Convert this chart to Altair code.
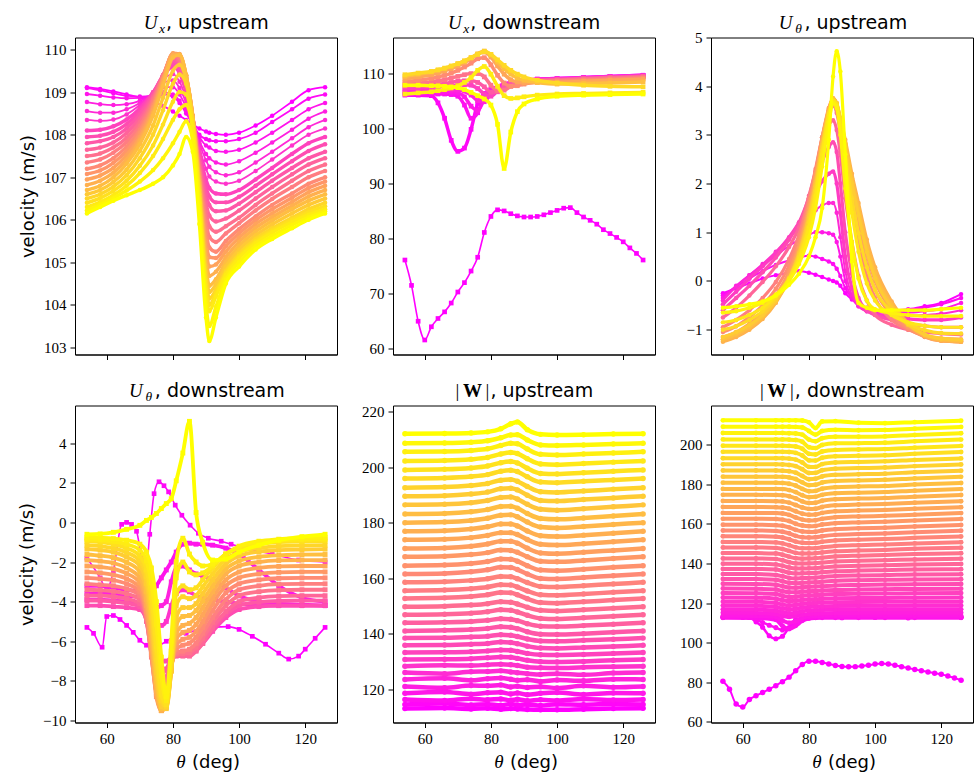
import altair as alt
import pandas as pd

W, H = 262, 317
XDOM = [50.4, 129.6]
XTICKS = [60, 80, 100, 120]

# ---------------- Panel 1: U_x upstream ----------------
UXU_X = [54, 58, 62, 66, 70, 74, 77, 80, 82, 84, 86, 88, 90, 91, 93, 96, 100, 105, 110, 116, 121, 126]
UXU_T = [0, 0.04, 0.08, 0.12, 0.16, 0.2, 0.26, 0.3, 0.34, 0.39, 0.44, 0.49, 0.54, 0.59, 0.64, 0.69, 0.74, 0.79, 0.84, 0.88, 0.92, 0.96, 1.0]
UXU = [
    [109.12, 109.08, 109.02, 108.95, 108.88, 108.78, 108.68, 108.55, 108.45, 108.35, 108.25, 108.15, 108.08, 108.05, 108.02, 108.0, 108.05, 108.22, 108.45, 108.78, 109.05, 109.12],
    [109.1, 109.05, 108.98, 108.92, 108.9, 108.92, 108.95, 108.9, 108.75, 108.5, 108.25, 108.0, 107.9, 107.87, 107.85, 107.85, 107.9, 108.05, 108.3, 108.6, 108.85, 108.95],
    [108.96, 108.92, 108.88, 108.86, 108.87, 108.92, 109.0, 108.95, 108.8, 108.55, 108.25, 107.95, 107.75, 107.7, 107.62, 107.6, 107.65, 107.82, 108.05, 108.35, 108.6, 108.75],
    [108.77, 108.72, 108.7, 108.72, 108.8, 108.95, 109.12, 109.12, 108.95, 108.65, 108.25, 107.85, 107.55, 107.45, 107.35, 107.3, 107.38, 107.58, 107.82, 108.12, 108.38, 108.55],
    [108.56, 108.52, 108.52, 108.6, 108.75, 108.98, 109.22, 109.28, 109.1, 108.75, 108.3, 107.8, 107.4, 107.25, 107.12, 107.05, 107.12, 107.35, 107.6, 107.92, 108.18, 108.35],
    [108.35, 108.33, 108.36, 108.48, 108.7, 109.0, 109.3, 109.43, 109.25, 108.85, 108.3, 107.7, 107.2, 107.02, 106.9, 106.85, 106.92, 107.15, 107.42, 107.75, 108.0, 108.15],
    [108.1, 108.12, 108.2, 108.36, 108.62, 109.0, 109.38, 109.6, 109.45, 109.0, 108.35, 107.6, 106.95, 106.75, 106.62, 106.6, 106.7, 106.95, 107.22, 107.55, 107.8, 107.95],
    [107.95, 107.98, 108.07, 108.25, 108.55, 108.98, 109.39, 109.68, 109.54, 109.08, 108.38, 107.52, 106.77, 106.55, 106.41, 106.41, 106.54, 106.8, 107.07, 107.38, 107.62, 107.78],
    [107.8, 107.85, 107.95, 108.15, 108.48, 108.95, 109.4, 109.75, 109.62, 109.15, 108.4, 107.45, 106.6, 106.35, 106.2, 106.22, 106.38, 106.65, 106.92, 107.22, 107.45, 107.6],
    [107.65, 107.7, 107.82, 108.04, 108.39, 108.9, 109.4, 109.8, 109.69, 109.2, 108.4, 107.35, 106.4, 106.1, 105.96, 106.03, 106.22, 106.5, 106.77, 107.07, 107.3, 107.45],
    [107.5, 107.56, 107.7, 107.93, 108.3, 108.85, 109.4, 109.85, 109.75, 109.25, 108.4, 107.25, 106.2, 105.85, 105.72, 105.85, 106.05, 106.35, 106.62, 106.92, 107.15, 107.3],
    [107.35, 107.42, 107.58, 107.83, 108.21, 108.79, 109.38, 109.88, 109.8, 109.3, 108.42, 107.18, 105.98, 105.6, 105.48, 105.68, 105.92, 106.22, 106.49, 106.77, 107.0, 107.15],
    [107.2, 107.28, 107.45, 107.72, 108.12, 108.72, 109.35, 109.9, 109.85, 109.35, 108.45, 107.1, 105.75, 105.35, 105.25, 105.5, 105.78, 106.08, 106.35, 106.62, 106.85, 107.0],
    [107.08, 107.16, 107.34, 107.62, 108.04, 108.66, 109.32, 109.91, 109.88, 109.38, 108.45, 107.02, 105.52, 105.12, 105.1, 105.38, 105.68, 105.99, 106.25, 106.52, 106.75, 106.9],
    [106.95, 107.04, 107.22, 107.52, 107.95, 108.6, 109.28, 109.92, 109.9, 109.4, 108.45, 106.95, 105.3, 104.9, 104.95, 105.25, 105.58, 105.9, 106.15, 106.42, 106.65, 106.8],
    [106.82, 106.92, 107.11, 107.42, 107.87, 108.52, 109.22, 109.87, 109.89, 109.4, 108.42, 106.88, 105.1, 104.68, 104.78, 105.12, 105.48, 105.81, 106.06, 106.33, 106.55, 106.7],
    [106.7, 106.8, 107.0, 107.32, 107.78, 108.45, 109.15, 109.82, 109.88, 109.4, 108.4, 106.8, 104.9, 104.45, 104.6, 105.0, 105.38, 105.72, 105.98, 106.25, 106.45, 106.6],
    [106.6, 106.7, 106.89, 107.18, 107.62, 108.22, 108.87, 109.51, 109.65, 109.3, 108.35, 106.7, 104.75, 104.3, 104.48, 104.9, 105.29, 105.63, 105.89, 106.15, 106.35, 106.5],
    [106.5, 106.6, 106.78, 107.05, 107.45, 108.0, 108.58, 109.2, 109.42, 109.2, 108.3, 106.6, 104.6, 104.15, 104.35, 104.8, 105.2, 105.55, 105.8, 106.05, 106.25, 106.4],
    [106.4, 106.51, 106.68, 106.92, 107.27, 107.75, 108.24, 108.78, 109.01, 108.95, 108.2, 106.5, 104.45, 104.0, 104.28, 104.75, 105.15, 105.5, 105.75, 106.0, 106.18, 106.32],
    [106.3, 106.42, 106.58, 106.8, 107.1, 107.5, 107.9, 108.35, 108.6, 108.7, 108.1, 106.4, 104.3, 103.85, 104.2, 104.7, 105.1, 105.45, 105.7, 105.95, 106.12, 106.25],
    [106.22, 106.36, 106.51, 106.69, 106.9, 107.17, 107.45, 107.8, 108.07, 108.32, 107.85, 106.15, 104.0, 103.5, 103.95, 104.6, 105.0, 105.38, 105.62, 105.88, 106.06, 106.2],
    [106.15, 106.3, 106.45, 106.58, 106.7, 106.85, 107.0, 107.28, 107.55, 107.95, 107.6, 105.9, 103.7, 103.15, 103.7, 104.5, 104.9, 105.3, 105.55, 105.8, 106.0, 106.15],
]

# ---------------- Panel 2: U_x downstream ----------------
HUB_X = [54, 56, 58, 60, 62, 64, 66, 68, 70, 72, 74, 76, 78, 80, 82, 84, 86, 88, 90, 92, 94,
         96, 98, 100, 102, 104, 106, 108, 110, 112, 114, 116, 118, 120, 122, 124, 126]
UXD_HUB = [76.1, 71.5, 65.0, 61.6, 64.0, 65.5, 66.7, 68.3, 70.3, 72.0, 74.1, 76.6, 81.1, 84.0, 85.2, 85.0, 84.5, 84.1, 83.9, 83.9, 84.0,
           84.3, 84.7, 85.1, 85.5, 85.6, 84.7, 83.9, 83.3, 82.6, 81.6, 80.9, 80.2, 79.4, 78.3, 77.3, 76.1]
UXD_X = [54, 58, 62, 64, 66, 68, 70, 72, 74, 76, 78, 80, 82, 84, 86, 88, 90, 94, 100, 108, 116, 126]
UXD_T = [0.03, 0.06, 0.1, 0.15, 0.25, 0.35, 0.45, 0.55, 0.65, 0.75, 0.85, 0.93, 1.0]
UXD = [
    [106.0, 106.0, 105.9, 104.6, 101.8, 97.8, 95.8, 96.4, 99.8, 104.5, 106.3, 107.0, 107.5, 107.9, 108.2, 108.4, 108.6, 108.9, 109.0, 109.2, 109.4, 109.6],
    [106.2, 106.2, 106.2, 106.2, 106.2, 106.1, 105.8, 104.2, 101.8, 102.8, 105.8, 107.0, 107.6, 108.0, 108.3, 108.5, 108.7, 108.9, 109.0, 109.2, 109.4, 109.6],
    [106.5, 106.5, 106.5, 106.5, 106.5, 106.5, 106.4, 105.7, 104.0, 103.2, 105.2, 106.8, 107.5, 107.9, 108.2, 108.4, 108.6, 108.8, 108.9, 109.1, 109.3, 109.5],
    [106.8, 106.8, 106.8, 106.8, 106.9, 106.9, 106.9, 106.7, 106.0, 105.0, 104.8, 106.3, 107.3, 107.8, 108.1, 108.3, 108.5, 108.7, 108.8, 109.0, 109.2, 109.4],
    [107.2, 107.3, 107.4, 107.5, 107.6, 107.7, 107.8, 107.9, 107.8, 107.2, 106.2, 105.8, 106.8, 107.7, 108.1, 108.4, 108.6, 108.8, 108.9, 109.1, 109.3, 109.5],
    [107.6, 107.7, 107.9, 108.0, 108.1, 108.3, 108.5, 108.6, 108.6, 108.3, 107.5, 106.5, 106.6, 107.4, 108.0, 108.3, 108.5, 108.7, 108.8, 109.0, 109.2, 109.4],
    [108.0, 108.2, 108.4, 108.6, 108.8, 109.1, 109.4, 109.7, 109.9, 109.9, 109.3, 107.8, 106.8, 106.9, 107.6, 108.1, 108.4, 108.6, 108.7, 108.9, 109.1, 109.3],
    [108.4, 108.7, 109.0, 109.3, 109.6, 110.0, 110.5, 111.1, 111.8, 112.6, 112.8, 111.5, 109.6, 108.2, 107.6, 107.7, 108.0, 108.4, 108.5, 108.7, 108.9, 109.1],
    [108.9, 109.3, 109.7, 110.0, 110.4, 110.8, 111.3, 111.9, 112.6, 113.4, 113.8, 112.9, 111.3, 109.8, 108.8, 108.4, 108.2, 108.3, 108.3, 108.5, 108.7, 108.9],
    [109.4, 109.8, 110.2, 110.5, 110.8, 111.2, 111.7, 112.2, 112.8, 113.5, 114.0, 113.3, 112.0, 110.8, 109.8, 109.1, 108.7, 108.3, 108.0, 108.1, 108.2, 108.4],
    [109.7, 110.0, 110.3, 110.6, 110.9, 111.3, 111.7, 112.2, 112.8, 113.4, 113.9, 113.4, 112.4, 111.4, 110.5, 109.8, 109.3, 108.7, 108.2, 107.8, 107.6, 107.5],
    [106.2, 106.4, 106.6, 106.8, 107.0, 107.3, 107.7, 108.3, 109.2, 110.5, 111.2, 109.8, 107.6, 105.9, 105.4, 105.5, 105.7, 106.0, 106.2, 106.3, 106.4, 106.5],
    [107.8, 107.8, 107.7, 107.7, 107.6, 107.5, 107.35, 107.0, 106.5, 105.9, 105.3, 104.2, 100.7, 92.7, 99.3, 103.0, 104.4, 105.3, 105.8, 106.0, 106.1, 106.2],
]

# ---------------- Panel 3: U_theta upstream ----------------
UTU_X = [54, 58, 62, 66, 70, 74, 77, 80, 82, 84, 86, 87.3, 88.4, 89.5, 91, 93, 95, 97.5, 100, 105, 110, 115, 120, 126]
UTU_T = [0, 0.05, 0.1, 0.16, 0.23, 0.3, 0.4, 0.5, 0.55, 0.6, 0.65, 0.7, 0.75, 0.8, 0.85, 0.9, 0.95, 1.0]
UTU = [
    [-0.25, -0.15, -0.05, 0.05, 0.12, 0.17, 0.2, 0.17, 0.13, 0.08, 0.03, 0.0, -0.03, -0.1, -0.25, -0.38, -0.47, -0.55, -0.6, -0.6, -0.58, -0.52, -0.45, -0.27],
    [-0.3, -0.12, 0.05, 0.2, 0.33, 0.42, 0.48, 0.52, 0.5, 0.45, 0.4, 0.35, 0.25, 0.1, -0.15, -0.35, -0.48, -0.56, -0.6, -0.62, -0.6, -0.55, -0.48, -0.35],
    [-0.35, -0.1, 0.12, 0.32, 0.52, 0.72, 0.85, 0.95, 1.0, 1.0, 0.98, 0.95, 0.8, 0.5, 0.0, -0.35, -0.52, -0.6, -0.63, -0.65, -0.65, -0.62, -0.58, -0.45],
    [-0.4, -0.12, 0.12, 0.35, 0.6, 0.88, 1.1, 1.3, 1.45, 1.55, 1.6, 1.6, 1.4, 0.9, 0.2, -0.3, -0.52, -0.62, -0.66, -0.7, -0.72, -0.7, -0.67, -0.6],
    [-0.48, -0.22, 0.05, 0.3, 0.58, 0.9, 1.2, 1.55, 1.8, 2.05, 2.2, 2.25, 2.0, 1.4, 0.5, -0.15, -0.48, -0.62, -0.68, -0.74, -0.78, -0.8, -0.8, -0.75],
    [-0.6, -0.35, -0.1, 0.18, 0.48, 0.85, 1.2, 1.7, 2.05, 2.45, 2.75, 2.85, 2.65, 2.0, 1.0, 0.15, -0.35, -0.6, -0.7, -0.8, -0.88, -0.92, -0.95, -0.95],
    [-0.75, -0.55, -0.3, -0.02, 0.3, 0.7, 1.1, 1.75, 2.25, 2.8, 3.2, 3.3, 3.1, 2.6, 1.7, 0.8, 0.1, -0.4, -0.7, -0.9, -1.0, -1.05, -1.08, -1.1],
    [-0.95, -0.8, -0.6, -0.35, -0.02, 0.45, 0.95, 1.7, 2.3, 2.95, 3.45, 3.6, 3.45, 3.05, 2.3, 1.5, 0.8, 0.1, -0.35, -0.8, -1.0, -1.12, -1.18, -1.2],
    [-1.05, -0.93, -0.74, -0.5, -0.16, 0.32, 0.85, 1.62, 2.25, 2.95, 3.5, 3.68, 3.53, 3.15, 2.5, 1.75, 1.05, 0.33, -0.18, -0.7, -0.98, -1.14, -1.21, -1.23],
    [-1.15, -1.05, -0.88, -0.65, -0.3, 0.2, 0.75, 1.55, 2.2, 2.95, 3.55, 3.75, 3.6, 3.25, 2.7, 2.0, 1.3, 0.55, 0.0, -0.6, -0.95, -1.15, -1.23, -1.25],
    [-1.2, -1.1, -0.94, -0.72, -0.38, 0.12, 0.68, 1.48, 2.12, 2.9, 3.53, 3.75, 3.63, 3.3, 2.8, 2.1, 1.45, 0.7, 0.14, -0.51, -0.91, -1.14, -1.23, -1.25],
    [-1.25, -1.15, -1.0, -0.78, -0.45, 0.05, 0.6, 1.4, 2.05, 2.85, 3.5, 3.75, 3.65, 3.35, 2.9, 2.2, 1.6, 0.85, 0.28, -0.42, -0.87, -1.12, -1.22, -1.25],
    [-1.2, -1.1, -0.95, -0.74, -0.42, 0.05, 0.58, 1.35, 2.0, 2.8, 3.48, 3.74, 3.65, 3.33, 2.83, 2.1, 1.48, 0.72, 0.16, -0.49, -0.89, -1.11, -1.2, -1.23],
    [-1.15, -1.05, -0.9, -0.7, -0.4, 0.05, 0.55, 1.3, 1.95, 2.75, 3.45, 3.72, 3.65, 3.3, 2.75, 2.0, 1.35, 0.6, 0.05, -0.55, -0.9, -1.1, -1.18, -1.2],
    [-1.0, -0.93, -0.8, -0.62, -0.35, 0.05, 0.5, 1.2, 1.85, 2.68, 3.43, 3.71, 3.63, 3.25, 2.58, 1.7, 0.98, 0.28, -0.18, -0.63, -0.88, -1.01, -1.07, -1.08],
    [-0.85, -0.8, -0.7, -0.55, -0.3, 0.05, 0.45, 1.1, 1.75, 2.6, 3.4, 3.7, 3.6, 3.2, 2.4, 1.4, 0.6, -0.05, -0.4, -0.7, -0.85, -0.92, -0.95, -0.95],
    [-0.65, -0.62, -0.55, -0.45, -0.28, 0.0, 0.35, 0.9, 1.5, 2.35, 3.25, 3.65, 3.55, 3.0, 1.9, 0.8, 0.05, -0.4, -0.58, -0.66, -0.7, -0.72, -0.72, -0.72],
    [-0.55, -0.52, -0.48, -0.42, -0.3, -0.08, 0.15, 0.5, 0.9, 1.5, 2.9, 4.2, 4.72, 4.3, 2.6, 0.4, -0.45, -0.55, -0.6, -0.6, -0.6, -0.6, -0.58, -0.55],
]

# ---------------- Panel 4: U_theta downstream ----------------
UTD_A_X = [54, 56, 58.6, 60, 62, 64, 66, 68, 70, 72, 74, 76, 78, 80, 84, 88, 92, 96.7, 100, 104, 108, 112, 115, 118, 120, 123, 126]
UTD_A = [-5.3, -5.6, -6.3, -4.75, -4.7, -4.9, -5.2, -5.55, -5.95, -6.2, -6.3, -6.2, -6.0, -5.8, -5.6, -5.4, -5.3, -5.26, -5.4, -5.75, -6.15, -6.6, -6.9, -6.75, -6.4, -5.85, -5.3]
UTD_B_X = [54, 58, 60, 62, 64.5, 66, 67.5, 69, 70.5, 71.6, 73, 74.3, 75.8, 77.3, 78.7, 80.7, 82.7, 85.2, 87.7, 90.7, 94.6, 97.6, 102, 110, 118, 126]
UTD_B = [-1.8, -2.8, -3.4, -2.45, -0.1, 0.0, -0.1, -0.45, -1.8, -2.8, -0.6, 1.45, 2.05, 1.85, 1.54, 0.87, 0.36, -0.14, -0.55, -0.8, -0.95, -1.1, -1.3, -1.6, -1.9, -2.0]
UTD_X = [54, 58, 62, 66, 70, 72, 73.5, 75, 76.5, 78, 79.5, 81, 83, 85, 87, 89, 92, 96, 100, 106, 112, 119, 126]
UTD_T = [0.08, 0.13, 0.2, 0.3, 0.35, 0.4, 0.45, 0.5, 0.55, 0.6, 0.65, 0.7, 0.75, 0.8, 0.84, 0.88, 0.92, 0.95, 1.0]
UTD = [
    [-3.2, -3.2, -3.3, -3.4, -3.5, -3.6, -3.5, -3.2, -2.8, -2.4, -2.0, -1.5, -1.1, -1.05, -1.1, -1.1, -1.15, -1.3, -1.6, -2.4, -3.2, -3.8, -4.0],
    [-3.6, -3.6, -3.6, -3.7, -3.8, -4.0, -4.2, -4.3, -4.2, -4.0, -3.0, -2.3, -2.2, -2.4, -2.6, -2.7, -2.9, -3.3, -3.7, -4.0, -4.1, -4.15, -4.2],
    [-3.9, -3.9, -3.95, -4.0, -4.1, -4.5, -4.9, -5.2, -5.2, -5.0, -4.2, -3.6, -3.4, -3.5, -3.7, -3.8, -3.9, -4.0, -4.1, -4.2, -4.2, -4.2, -4.2],
    [-4.2, -4.2, -4.25, -4.3, -4.4, -4.9, -5.8, -6.6, -7.0, -7.0, -6.8, -6.6, -6.5, -6.5, -6.4, -6.1, -5.5, -4.8, -4.4, -4.25, -4.2, -4.2, -4.2],
    [-3.95, -3.95, -4.0, -4.08, -4.25, -4.95, -6.2, -7.25, -7.65, -7.4, -6.9, -6.68, -6.62, -6.62, -6.45, -6.1, -5.4, -4.65, -4.2, -4.02, -3.96, -3.95, -3.95],
    [-3.7, -3.7, -3.75, -3.85, -4.1, -5.0, -6.6, -7.9, -8.3, -7.8, -7.0, -6.75, -6.75, -6.75, -6.5, -6.1, -5.3, -4.5, -4.0, -3.8, -3.72, -3.7, -3.7],
    [-3.4, -3.42, -3.48, -3.6, -3.9, -4.9, -6.7, -8.25, -8.8, -8.2, -7.1, -6.68, -6.62, -6.58, -6.3, -5.85, -5.05, -4.2, -3.7, -3.5, -3.42, -3.4, -3.4],
    [-3.1, -3.15, -3.2, -3.35, -3.7, -4.8, -6.8, -8.6, -9.3, -8.6, -7.2, -6.6, -6.5, -6.4, -6.1, -5.6, -4.8, -3.9, -3.4, -3.2, -3.12, -3.1, -3.1],
    [-2.8, -2.85, -2.92, -3.1, -3.5, -4.65, -6.7, -8.7, -9.4, -8.8, -7.25, -6.4, -6.2, -6.1, -5.8, -5.3, -4.45, -3.55, -3.1, -2.9, -2.82, -2.8, -2.8],
    [-2.5, -2.55, -2.65, -2.85, -3.3, -4.5, -6.6, -8.8, -9.5, -9.0, -7.3, -6.2, -5.9, -5.8, -5.5, -5.0, -4.1, -3.2, -2.8, -2.6, -2.52, -2.5, -2.5],
    [-2.2, -2.25, -2.35, -2.58, -3.05, -4.2, -6.25, -8.65, -9.5, -9.15, -7.4, -5.9, -5.55, -5.45, -5.15, -4.65, -3.8, -2.9, -2.5, -2.3, -2.22, -2.2, -2.2],
    [-1.9, -1.95, -2.05, -2.3, -2.8, -3.9, -5.9, -8.5, -9.5, -9.3, -7.5, -5.6, -5.2, -5.1, -4.8, -4.3, -3.5, -2.6, -2.2, -2.0, -1.92, -1.9, -1.9],
    [-1.62, -1.68, -1.78, -2.02, -2.5, -3.5, -5.35, -8.05, -9.4, -9.35, -7.5, -5.2, -4.75, -4.7, -4.45, -3.95, -3.2, -2.35, -1.95, -1.74, -1.66, -1.63, -1.62],
    [-1.35, -1.4, -1.5, -1.75, -2.2, -3.1, -4.8, -7.6, -9.3, -9.4, -7.5, -4.8, -4.3, -4.3, -4.1, -3.6, -2.9, -2.1, -1.7, -1.48, -1.4, -1.37, -1.35],
    [-1.15, -1.2, -1.3, -1.52, -1.95, -2.75, -4.3, -6.95, -9.0, -9.3, -7.25, -4.2, -3.75, -3.85, -3.7, -3.25, -2.6, -1.85, -1.5, -1.3, -1.2, -1.17, -1.15],
    [-0.95, -1.0, -1.1, -1.3, -1.7, -2.4, -3.8, -6.3, -8.7, -9.2, -7.0, -3.6, -3.2, -3.4, -3.3, -2.9, -2.3, -1.6, -1.3, -1.1, -1.0, -0.97, -0.95],
    [-0.85, -0.89, -0.96, -1.1, -1.4, -1.95, -3.05, -5.15, -7.75, -9.0, -6.5, -2.8, -2.0, -2.5, -2.65, -2.55, -2.2, -1.6, -1.25, -1.02, -0.92, -0.87, -0.85],
    [-0.75, -0.78, -0.82, -0.9, -1.1, -1.5, -2.3, -4.0, -6.8, -8.8, -6.0, -2.0, -0.8, -1.6, -2.0, -2.2, -2.1, -1.6, -1.2, -0.95, -0.85, -0.78, -0.75],
    [-0.6, -0.58, -0.5, -0.35, -0.15, 0.1, 0.25, 0.45, 0.7, 0.95, 1.2, 2.1, 3.5, 5.1, 0.5, -1.0, -1.9, -1.85, -1.5, -1.15, -0.9, -0.72, -0.6],
]

# ---------------- Panel 5: |W| upstream (bottom -> top) ----------------
WU_X = [54, 66, 74, 79, 83, 86, 88, 91, 95, 100, 108, 117, 126]
WU = [
    [113.0, 113.2, 112.9, 113.1, 112.8, 113.0, 112.9, 112.7, 112.6, 112.6, 112.8, 113.0, 113.1],
    [114.5, 114.8, 114.3, 114.6, 114.2, 114.7, 114.3, 114.5, 114.1, 114.6, 114.4, 114.7, 114.5],
    [116.3, 115.9, 116.6, 116.2, 116.5, 116.0, 116.4, 115.8, 116.2, 115.9, 116.5, 116.1, 116.3],
    [118.5, 119.0, 118.2, 118.7, 118.9, 118.3, 118.6, 118.0, 118.5, 118.8, 118.1, 118.6, 118.5],
    [121.0, 120.5, 121.3, 121.2, 121.5, 120.8, 121.1, 120.6, 120.9, 120.4, 121.2, 120.7, 121.0],
    [123.5, 123.9, 123.2, 123.8, 124.0, 123.6, 123.2, 123.4, 122.8, 123.3, 123.0, 123.6, 123.5],
    [126.0, 125.6, 126.3, 126.4, 126.6, 126.2, 125.9, 125.6, 125.3, 125.6, 125.2, 125.8, 126.0],
    [128.3, 128.6, 128.5, 128.8, 129.0, 128.8, 128.5, 127.9, 127.7, 127.6, 127.9, 128.1, 128.3],
    [130.7, 130.8, 131.0, 131.3, 131.6, 131.5, 131.1, 130.4, 129.9, 129.8, 130.0, 130.4, 130.7],
    [133.2, 133.3, 133.5, 133.8, 134.1, 134.0, 133.6, 132.9, 132.4, 132.3, 132.5, 132.9, 133.2],
    [135.8, 135.9, 136.2, 136.5, 137.0, 136.8, 136.4, 135.5, 134.8, 134.7, 135.0, 135.4, 135.8],
    [138.4, 138.5, 138.8, 139.1, 139.6, 139.4, 139.0, 138.1, 137.4, 137.3, 137.6, 138.0, 138.4],
    [141.0, 141.2, 141.5, 141.9, 142.5, 142.3, 141.8, 140.7, 139.8, 139.7, 140.0, 140.5, 141.0],
    [143.9, 144.1, 144.4, 144.8, 145.4, 145.2, 144.7, 143.6, 142.7, 142.6, 142.9, 143.4, 143.9],
    [146.8, 147.0, 147.4, 147.9, 148.6, 148.4, 147.8, 146.6, 145.5, 145.3, 145.7, 146.3, 146.8],
    [149.7, 149.9, 150.3, 150.8, 151.5, 151.3, 150.7, 149.5, 148.4, 148.2, 148.6, 149.2, 149.7],
    [152.7, 152.9, 153.4, 154.0, 154.8, 154.7, 154.0, 152.6, 151.2, 151.0, 151.5, 152.1, 152.7],
    [155.5, 155.7, 156.2, 156.8, 157.6, 157.5, 156.8, 155.4, 154.0, 153.8, 154.3, 154.9, 155.5],
    [158.5, 158.7, 159.2, 159.8, 160.6, 160.5, 159.8, 158.4, 157.0, 156.8, 157.3, 157.9, 158.5],
    [161.5, 161.7, 162.3, 163.0, 163.9, 163.8, 163.1, 161.5, 159.9, 159.7, 160.2, 160.9, 161.5],
    [164.5, 164.7, 165.3, 166.0, 166.9, 166.8, 166.1, 164.5, 162.9, 162.7, 163.2, 163.9, 164.5],
    [167.7, 167.9, 168.5, 169.2, 170.1, 170.0, 169.3, 167.7, 166.1, 165.9, 166.4, 167.1, 167.7],
    [170.7, 170.9, 171.5, 172.3, 173.3, 173.3, 172.6, 170.8, 169.1, 168.8, 169.3, 170.0, 170.7],
    [173.8, 174.0, 174.6, 175.4, 176.4, 176.4, 175.7, 173.9, 172.2, 171.9, 172.4, 173.1, 173.8],
    [176.9, 177.1, 177.7, 178.5, 179.5, 179.5, 178.8, 177.0, 175.3, 175.0, 175.5, 176.2, 176.9],
    [180.0, 180.2, 180.8, 181.6, 182.7, 182.8, 182.1, 180.2, 178.4, 178.1, 178.6, 179.3, 180.0],
    [183.1, 183.3, 183.9, 184.7, 185.8, 185.9, 185.2, 183.3, 181.5, 181.2, 181.7, 182.4, 183.1],
    [186.4, 186.6, 187.2, 188.0, 189.1, 189.2, 188.5, 186.6, 184.8, 184.5, 185.0, 185.7, 186.4],
    [189.5, 189.7, 190.3, 191.0, 192.2, 192.4, 191.8, 189.9, 188.0, 187.8, 188.3, 188.9, 189.5],
    [192.6, 192.8, 193.4, 194.1, 195.3, 195.5, 194.9, 193.0, 191.1, 190.9, 191.4, 192.0, 192.6],
    [195.9, 196.1, 196.6, 197.3, 198.5, 198.9, 198.4, 196.5, 194.6, 194.4, 194.9, 195.4, 195.9],
    [199.0, 199.2, 199.7, 200.4, 201.6, 202.0, 201.5, 199.6, 197.7, 197.5, 198.0, 198.5, 199.0],
    [202.2, 202.35, 202.8, 203.5, 204.7, 205.3, 204.9, 203.0, 201.1, 200.9, 201.3, 201.8, 202.2],
    [205.5, 205.6, 206.0, 206.6, 207.8, 208.6, 208.4, 206.5, 204.6, 204.4, 204.7, 205.1, 205.5],
    [208.6, 208.7, 209.0, 209.5, 210.6, 211.6, 211.7, 209.8, 208.0, 207.8, 208.0, 208.3, 208.6],
    [212.0, 212.1, 212.3, 212.7, 213.8, 215.6, 216.3, 213.5, 211.8, 211.6, 211.7, 211.9, 212.0],
]

# ---------------- Panel 6: |W| downstream ----------------
WD_HUB = [80.5, 76.5, 69.0, 67.5, 71.3, 73.2, 74.8, 76.5, 78.3, 80.3, 82.6, 85.8, 89.0, 90.6, 90.6, 90.0, 89.2, 88.5, 88.0, 87.8, 87.9,
          88.2, 88.6, 89.2, 89.5, 89.2, 88.6, 87.8, 87.2, 86.5, 85.8, 85.2, 84.6, 84.0, 83.2, 82.2, 81.0]
WD_2X = [54, 60, 62, 64, 66, 68, 70, 72, 74, 76, 80, 90, 100, 110, 126]
WD_2 = [112.8, 112.8, 112.7, 110.5, 107.8, 103.5, 102.0, 103.2, 107.6, 111.8, 112.8, 112.6, 112.8, 112.6, 112.8]
WD_3 = [112.8, 112.8, 112.8, 111.6, 110.2, 108.8, 107.6, 106.4, 107.0, 110.5, 112.8, 112.7, 112.8, 112.6, 112.8]
WD_X = [54, 64, 70, 72, 74, 76, 78, 80, 82, 84, 88, 95, 103, 112, 126]
WD = [  # bottom -> top
    [112.6, 112.5, 111.5, 108.5, 107.0, 108.5, 111.0, 112.2, 112.5, 112.6, 112.6, 112.6, 112.6, 112.6, 112.6],
    [113.6, 113.5, 112.9, 111.2, 110.0, 110.8, 112.6, 113.2, 113.4, 113.5, 113.6, 113.6, 113.6, 113.6, 113.6],
    [115.1, 115.0, 114.4, 113.5, 113.0, 113.4, 114.1, 114.5, 114.7, 114.8, 115.0, 115.0, 115.1, 115.1, 115.1],
    [116.8, 116.7, 116.1, 115.2, 114.8, 115.1, 115.8, 116.2, 116.4, 116.5, 116.7, 116.8, 116.8, 116.8, 116.8],
    [118.7, 118.6, 118.0, 117.2, 116.8, 117.1, 117.7, 118.0, 118.1, 118.3, 118.5, 118.6, 118.6, 118.7, 118.7],
    [120.7, 120.6, 120.0, 119.2, 118.8, 119.1, 119.6, 119.9, 120.0, 120.2, 120.4, 120.5, 120.6, 120.7, 120.7],
    [122.8, 122.7, 122.2, 121.4, 120.9, 121.1, 121.6, 121.8, 121.9, 122.1, 122.4, 122.5, 122.6, 122.7, 122.8],
    [125.0, 124.9, 124.5, 123.7, 123.1, 123.2, 123.7, 123.9, 124.0, 124.2, 124.5, 124.7, 124.8, 124.9, 125.0],
    [127.3, 127.2, 126.8, 126.0, 125.4, 125.4, 125.8, 126.0, 126.1, 126.3, 126.6, 126.8, 127.0, 127.1, 127.2],
    [129.7, 129.6, 129.2, 128.5, 127.8, 127.7, 128.0, 128.2, 128.3, 128.5, 128.9, 129.1, 129.3, 129.5, 129.6],
    [132.1, 132.1, 131.7, 131.0, 130.2, 130.0, 130.2, 130.4, 130.5, 130.8, 131.2, 131.5, 131.7, 131.9, 132.0],
    [134.6, 134.6, 134.2, 133.5, 132.7, 132.4, 132.6, 132.7, 132.8, 133.1, 133.6, 133.9, 134.1, 134.4, 134.5],
    [137.2, 137.2, 136.9, 136.2, 135.3, 134.9, 135.0, 135.1, 135.2, 135.5, 136.0, 136.4, 136.6, 136.9, 137.1],
    [139.8, 139.8, 139.5, 138.9, 137.9, 137.4, 137.4, 137.5, 137.6, 137.9, 138.5, 138.8, 139.1, 139.4, 139.7],
    [142.5, 142.5, 142.2, 141.6, 140.6, 140.0, 139.9, 140.0, 140.1, 140.4, 141.0, 141.3, 141.6, 142.0, 142.4],
    [145.2, 145.2, 145.0, 144.4, 143.4, 142.6, 142.4, 142.5, 142.6, 142.9, 143.5, 143.9, 144.2, 144.7, 145.1],
    [148.0, 148.0, 147.8, 147.3, 146.3, 145.3, 145.0, 145.0, 145.1, 145.5, 146.1, 146.5, 146.8, 147.4, 147.9],
    [150.8, 150.8, 150.6, 150.1, 149.2, 148.1, 147.6, 147.6, 147.7, 148.1, 148.8, 149.2, 149.5, 150.1, 150.7],
    [153.7, 153.7, 153.5, 153.1, 152.2, 151.0, 150.4, 150.3, 150.4, 150.9, 151.6, 152.0, 152.3, 152.9, 153.6],
    [156.6, 156.6, 156.4, 156.0, 155.2, 153.9, 153.2, 153.1, 153.2, 153.7, 154.4, 154.8, 155.1, 155.7, 156.5],
    [159.5, 159.5, 159.3, 159.0, 158.2, 156.9, 156.1, 155.9, 156.0, 156.6, 157.3, 157.7, 158.0, 158.6, 159.4],
    [162.5, 162.5, 162.4, 162.1, 161.4, 160.0, 159.1, 158.8, 158.9, 159.6, 160.3, 160.7, 161.0, 161.6, 162.4],
    [165.5, 165.5, 165.4, 165.2, 164.5, 163.2, 162.1, 161.7, 161.8, 162.5, 163.3, 163.7, 164.0, 164.6, 165.4],
    [168.5, 168.5, 168.4, 168.2, 167.6, 166.3, 165.1, 164.6, 164.7, 165.5, 166.3, 166.7, 167.0, 167.6, 168.4],
    [171.5, 171.5, 171.4, 171.3, 170.7, 169.5, 168.2, 167.5, 167.6, 168.5, 169.3, 169.7, 170.0, 170.6, 171.4],
    [174.6, 174.6, 174.5, 174.4, 173.9, 172.8, 171.3, 170.5, 170.6, 171.6, 172.4, 172.7, 173.0, 173.7, 174.5],
    [177.6, 177.6, 177.6, 177.5, 177.0, 176.0, 174.4, 173.4, 173.6, 174.6, 175.4, 175.7, 176.0, 176.7, 177.5],
    [180.7, 180.7, 180.7, 180.6, 180.2, 179.3, 177.6, 176.4, 176.6, 177.7, 178.5, 178.8, 179.1, 179.8, 180.6],
    [183.8, 183.8, 183.8, 183.7, 183.4, 182.6, 180.9, 179.5, 179.7, 180.8, 181.6, 181.9, 182.2, 182.9, 183.7],
    [186.9, 186.9, 186.9, 186.8, 186.5, 185.8, 184.1, 182.5, 182.7, 183.9, 184.7, 185.0, 185.3, 186.0, 186.8],
    [190.0, 190.0, 190.0, 189.9, 189.7, 189.1, 187.5, 185.6, 185.7, 187.0, 187.8, 188.1, 188.4, 189.1, 189.9],
    [193.1, 193.1, 193.1, 193.1, 192.9, 192.4, 190.9, 188.7, 188.7, 190.1, 190.9, 191.2, 191.5, 192.2, 193.0],
    [196.3, 196.3, 196.3, 196.3, 196.2, 195.8, 194.5, 192.0, 191.9, 193.3, 194.1, 194.3, 194.6, 195.3, 196.2],
    [199.4, 199.4, 199.4, 199.4, 199.3, 199.0, 197.9, 195.3, 195.0, 196.5, 197.3, 197.5, 197.7, 198.4, 199.3],
    [202.6, 202.6, 202.6, 202.6, 202.5, 202.3, 201.4, 198.6, 198.2, 199.8, 200.6, 200.7, 200.9, 201.6, 202.5],
    [205.8, 205.8, 205.8, 205.8, 205.7, 205.6, 205.0, 202.5, 201.6, 203.2, 203.9, 203.9, 204.1, 204.8, 205.7],
    [209.0, 209.0, 209.0, 209.0, 209.0, 208.9, 208.6, 206.8, 205.0, 206.8, 207.4, 207.2, 207.3, 208.0, 208.9],
    [212.2, 212.2, 212.2, 212.2, 212.2, 212.2, 212.1, 211.2, 208.3, 211.6, 211.8, 211.0, 210.8, 211.3, 212.0],
]

SANS = "DejaVu Sans"
SERIF = "Liberation Serif"


def spring(t):
    return "#ff{:02x}{:02x}".format(int(round(255 * t)), int(round(255 * (1 - t))))


def line_layer(xs, ys, t, shape, sw, ms, xenc, yenc):
    c = spring(t)
    df = pd.DataFrame({"x": xs, "y": ys})
    return alt.Chart(df).mark_line(
        color=c, strokeWidth=sw, interpolate="monotone",
        point=alt.OverlayMarkDef(filled=True, shape=shape, size=ms, color=c, opacity=1, strokeWidth=0),
    ).encode(x=xenc, y=yenc)


def text_layer(txt, x, y, font, size, style="normal", weight="normal", align="left"):
    return alt.Chart(alt.Data(values=[{}])).mark_text(
        text=txt, font=font, fontSize=size, fontStyle=style, fontWeight=weight,
        align=align, baseline="alphabetic", color="black",
    ).encode(x=alt.value(x), y=alt.value(y))


def title_layers(math, text):
    text_w = {", upstream": 103.0, ", downstream": 130.4}[text]
    math_w = {"x": 23.0, "θ": 28.0, "W": 36.0}[math]
    x0 = (W - math_w - text_w) / 2 + math_w
    yb = -8.7
    out = [text_layer(text, x0, yb, SANS, 19)]
    if math == "W":
        out += [text_layer("|", x0 - 33, yb, SERIF, 19, align="center"),
                text_layer("W", x0 - 18, yb, SERIF, 19, weight="bold", align="center"),
                text_layer("|", x0 - 3, yb, SERIF, 19, align="center")]
    else:
        ux = x0 - (15.5 if math == "x" else 19)
        sx = x0 - (4.0 if math == "x" else 6)
        out += [text_layer("U", ux, yb, SERIF, 19, style="italic", align="center"),
                text_layer(math, sx, yb + 4.5, SERIF, 13.5, style="italic", align="center")]
    return out


def panel(series, ydom, yticks, top, ytitle, math, text):
    xaxis = alt.Axis(values=XTICKS, labels=not top, title=None, labelFont=SERIF, labelFontSize=15)
    if ytitle:
        yaxis = alt.Axis(values=yticks, format="d", title="velocity (m/s)", labelFont=SERIF, labelFontSize=15)
    else:
        yaxis = alt.Axis(values=yticks, format="d", title=None, labelFont=SERIF, labelFontSize=15)
    xenc = alt.X("x:Q", scale=alt.Scale(domain=XDOM, nice=False, zero=False), axis=xaxis)
    yenc = alt.Y("y:Q", scale=alt.Scale(domain=ydom, nice=False, zero=False), axis=yaxis)
    layers = [line_layer(xs, ys, t, shape, sw, ms, xenc, yenc) for (xs, ys, t, shape, sw, ms) in series]
    layers += title_layers(math, text)
    if not top:
        layers += [text_layer("θ", W / 2 - 25, H + 45, SERIF, 19, style="italic", align="center"),
                   text_layer("(deg)", W / 2 - 14, H + 45, SANS, 18)]
    return alt.layer(*layers).properties(width=W, height=H)


s1 = [(UXU_X, ys, t, "circle", 1.8 if t < 0.25 else 3.4, 20) for ys, t in zip(UXU, UXU_T)]
s2 = [(HUB_X, UXD_HUB, 0.0, "square", 1.6, 22)] + [(UXD_X, ys, t, "square", 3.5, 22) for ys, t in zip(UXD, UXD_T)]
s3 = [(UTU_X, ys, t, "circle", 2.0 if t < 0.2 else 3.2, 20) for ys, t in zip(UTU, UTU_T)]
s4 = ([(UTD_A_X, UTD_A, 0.0, "square", 1.6, 22), (UTD_B_X, UTD_B, 0.03, "square", 1.6, 22)]
      + [(UTD_X, ys, t, "square", 3.8, 24) for ys, t in zip(UTD, UTD_T)])
nwu = len(WU)
s5 = [(WU_X, ys, i / (nwu - 1), "circle", 4.5, 30) for i, ys in enumerate(WU)]
nwd = len(WD) + 3
s6 = ([(HUB_X, WD_HUB, 0.0, "circle", 2.0, 30), (WD_2X, WD_2, 1 / (nwd - 1), "circle", 2.5, 26),
       (WD_2X, WD_3, 2 / (nwd - 1), "circle", 2.5, 26)]
      + [(WD_X, ys, (i + 3) / (nwd - 1), "circle", 4.0, 24) for i, ys in enumerate(WD)])

p1 = panel(s1, [102.83, 110.29], [103, 104, 105, 106, 107, 108, 109, 110], True, True, "x", ", upstream")
p2 = panel(s2, [58.97, 116.45], [60, 70, 80, 90, 100, 110], True, False, "x", ", downstream")
p3 = panel(s3, [-1.51, 5.0], [-1, 0, 1, 2, 3, 4, 5], True, False, "θ", ", upstream")
p4 = panel(s4, [-10.1, 5.9], [-10, -8, -6, -4, -2, 0, 2, 4], False, True, "θ", ", downstream")
p5 = panel(s5, [108.0, 222.2], [120, 140, 160, 180, 200, 220], False, False, "W", ", upstream")
p6 = panel(s6, [59.7, 219.7], [60, 80, 100, 120, 140, 160, 180, 200], False, False, "W", ", downstream")

chart = alt.concat(
    p1, p2, p3, p4, p5, p6, columns=3, spacing={"row": 20, "column": 23}, align="each"
).properties(
    padding={"left": 18, "top": 12.5, "right": 0, "bottom": 0}, background="white"
).configure_axis(
    labelFont=SERIF, labelFontSize=15, labelColor="black", tickColor="black", domainColor="black",
    tickSize=5, tickWidth=1, domainWidth=1, labelPadding=4, grid=False,
    titleFont=SANS, titleFontSize=18, titleFontWeight="normal", titleColor="black", titlePadding=6,
).configure_view(stroke="black", strokeWidth=1)

chart.save("out.html", embed_options={"renderer": "svg", "actions": False})
